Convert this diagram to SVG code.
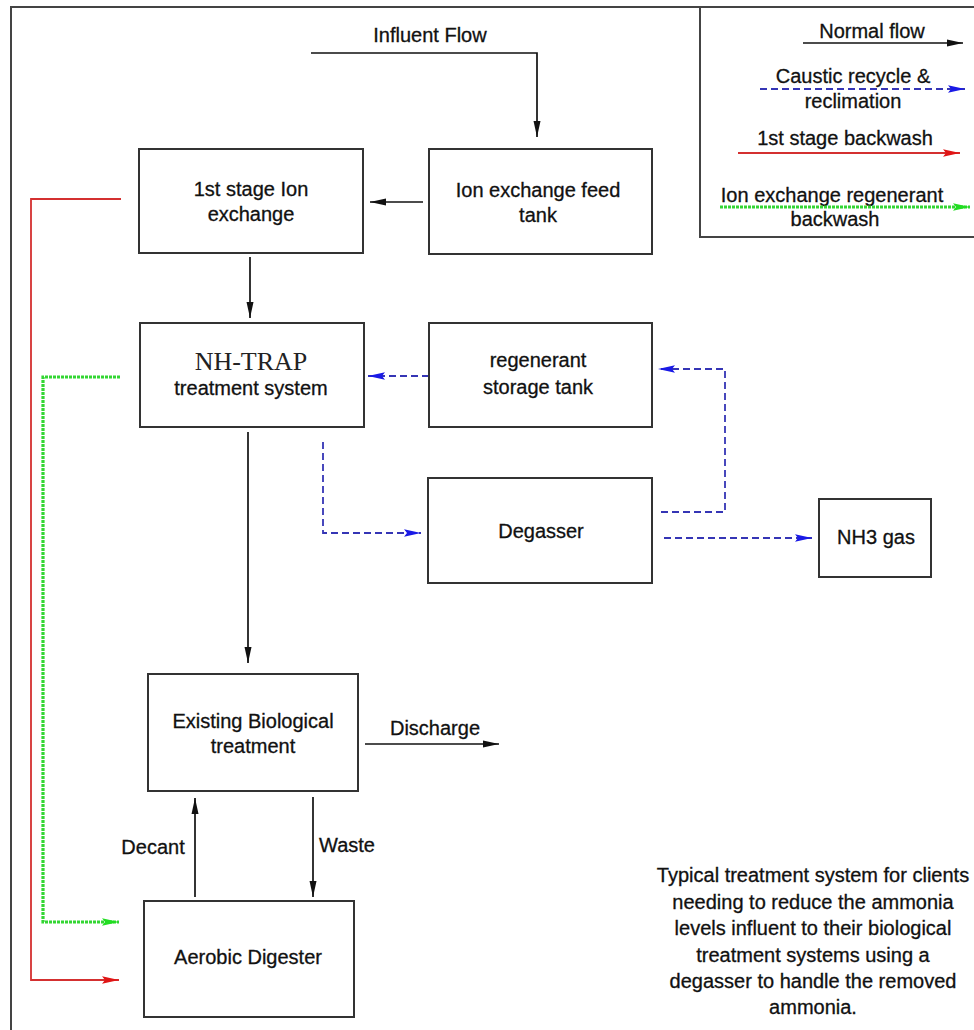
<svg xmlns="http://www.w3.org/2000/svg" width="974" height="1030" viewBox="0 0 974 1030">
<style>
  .box { fill: #fff; stroke: #333; stroke-width: 2; }
  .t { font-family: "Liberation Sans", Arial, sans-serif; font-size: 20px; fill: #111; stroke: #111; stroke-width: 0.3; text-anchor: middle; }
  .ts { font-family: "Liberation Serif", "Times New Roman", serif; font-size: 26px; fill: #222; text-anchor: middle; }
  .blk { fill: none; stroke: #111; stroke-width: 1.7; }
  .blu { fill: none; stroke: #3535b5; stroke-width: 1.8; stroke-dasharray: 7 4; }
  .red { fill: none; stroke: #d43030; stroke-width: 1.8; }
  .grn { fill: none; stroke: #33d633; stroke-width: 3.2; stroke-dasharray: 3 1; }
  .frame { fill: none; stroke: #444; stroke-width: 2; }
</style>
<defs>
  <marker id="ab" markerWidth="17" markerHeight="9" refX="16" refY="4.5" orient="auto" markerUnits="userSpaceOnUse">
    <path d="M0,1 L16,4.5 L0,8 Z" fill="#111"/>
  </marker>
  <marker id="abl" markerWidth="18" markerHeight="9" refX="17" refY="4.5" orient="auto" markerUnits="userSpaceOnUse">
    <path d="M0,0.8 L17,4.5 L0,8.2 L3,4.5 Z" fill="#1a1ae6"/>
  </marker>
  <marker id="ar" markerWidth="18" markerHeight="9" refX="17" refY="4.5" orient="auto" markerUnits="userSpaceOnUse">
    <path d="M0,0.8 L17,4.5 L0,8.2 L3,4.5 Z" fill="#e01515"/>
  </marker>
  <marker id="ag" markerWidth="18" markerHeight="9" refX="17" refY="4.5" orient="auto" markerUnits="userSpaceOnUse">
    <path d="M0,0.8 L17,4.5 L0,8.2 L3,4.5 Z" fill="#22dd22"/>
  </marker>
</defs>
<rect width="974" height="1030" fill="#fff"/>
<path class="frame" d="M11,1030 V7 H974"/>

<g id="legend">
  <path class="frame" d="M700,7 V237 H974"/>
  <text class="t" x="872" y="38">Normal flow</text>
  <path class="blk" d="M803,43 H963" marker-end="url(#ab)"/>
  <text class="t" x="853" y="83">Caustic recycle &amp;</text>
  <path class="blu" d="M760,89 H965" marker-end="url(#abl)"/>
  <text class="t" x="853" y="108">reclimation</text>
  <text class="t" x="845" y="145">1st stage backwash</text>
  <path class="red" d="M738,153 H960" marker-end="url(#ar)"/>
  <text class="t" x="832" y="202">Ion exchange regenerant</text>
  <path class="grn" d="M720,207 H970" marker-end="url(#ag)"/>
  <text class="t" x="835" y="226">backwash</text>
</g>

<g id="connectors">
  <path class="blk" d="M311,53 H537 V137" marker-end="url(#ab)"/>
  <text class="t" x="430" y="42">Influent Flow</text>
  <path class="blk" d="M423,202 H370" marker-end="url(#ab)"/>
  <path class="blk" d="M250,257 V318" marker-end="url(#ab)"/>
  <path class="blu" d="M429,376 H368" marker-end="url(#abl)"/>
  <path class="blu" d="M323,442 V533 H421" marker-end="url(#abl)"/>
  <path class="blu" d="M661,512 H725 V369 H658" marker-end="url(#abl)"/>
  <path class="blu" d="M664,538 H812" marker-end="url(#abl)"/>
  <path class="blk" d="M248,432 V663" marker-end="url(#ab)"/>
  <path class="blk" d="M365,744 H499" marker-end="url(#ab)"/>
  <text class="t" x="435" y="735">Discharge</text>
  <path class="blk" d="M195,897 V798" marker-end="url(#ab)"/>
  <text class="t" x="153" y="854">Decant</text>
  <path class="blk" d="M313,797 V897" marker-end="url(#ab)"/>
  <text class="t" x="319" y="852" style="text-anchor:start">Waste</text>
  <path class="red" d="M121,199 H31 V980 H119" marker-end="url(#ar)"/>
  <path class="grn" d="M120,377 H43 V922 H119" marker-end="url(#ag)"/>
</g>

<g id="first-stage">
  <rect class="box" x="139" y="149" width="224" height="104"/>
  <text class="t" x="251" y="196">1st stage Ion</text>
  <text class="t" x="251" y="221">exchange</text>
</g>
<g id="feed-tank">
  <rect class="box" x="429" y="149" width="223" height="105"/>
  <text class="t" x="538" y="197">Ion exchange feed</text>
  <text class="t" x="538" y="222">tank</text>
</g>
<g id="nh-trap">
  <rect class="box" x="140" y="323" width="224" height="104"/>
  <text class="ts" x="251" y="370">NH-TRAP</text>
  <text class="t" x="251" y="395">treatment system</text>
</g>
<g id="regenerant">
  <rect class="box" x="429" y="323" width="223" height="104"/>
  <text class="t" x="538" y="367">regenerant</text>
  <text class="t" x="538" y="394">storage tank</text>
</g>
<g id="degasser">
  <rect class="box" x="428" y="478" width="224" height="105"/>
  <text class="t" x="541" y="538">Degasser</text>
</g>
<g id="nh3">
  <rect class="box" x="819" y="499" width="112" height="78"/>
  <text class="t" x="876" y="544">NH3 gas</text>
</g>
<g id="existing">
  <rect class="box" x="148" y="674" width="210" height="117"/>
  <text class="t" x="253" y="728">Existing Biological</text>
  <text class="t" x="253" y="753">treatment</text>
</g>
<g id="aerobic">
  <rect class="box" x="144" y="901" width="210" height="116"/>
  <text class="t" x="248" y="964">Aerobic Digester</text>
</g>

<g id="note">
  <text class="t" x="813" y="882">Typical treatment system for clients</text>
  <text class="t" x="813" y="908.5">needing to reduce the ammonia</text>
  <text class="t" x="813" y="935">levels influent to their biological</text>
  <text class="t" x="813" y="961.5">treatment systems using a</text>
  <text class="t" x="813" y="988">degasser to handle the removed</text>
  <text class="t" x="813" y="1014">ammonia.</text>
</g>
</svg>
